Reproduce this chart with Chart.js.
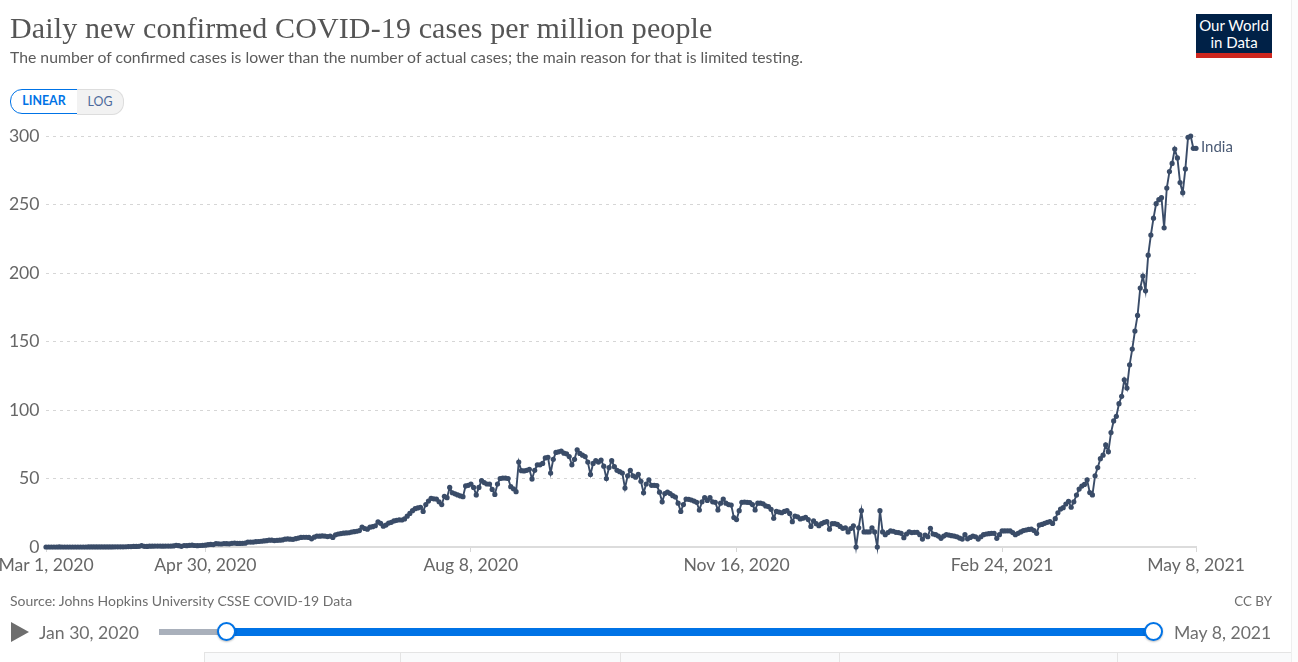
<!DOCTYPE html>
<html>
<head>
<meta charset="utf-8">
<title>Daily new confirmed COVID-19 cases per million people</title>
<script src="https://cdn.jsdelivr.net/npm/chart.js@4"></script>
<style>
html,body{margin:0;padding:0;background:#fff;width:1298px;height:662px;overflow:hidden;font-family:Lato,sans-serif}
#wrap{position:relative;width:1298px;height:662px}
#wrap>*{position:absolute}
canvas{left:0;top:0}
#title{left:10px;top:10px;font:400 30px "Liberation Serif",serif;color:#555;letter-spacing:.13px;white-space:nowrap;line-height:36px}
#sub{left:10px;top:47px;font:15.77px Lato;color:#5b5b5b;white-space:nowrap;line-height:19px}
#lin{left:10px;top:89px;width:66px;height:23px;border:1.5px solid #0073e6;border-radius:12px 0 0 12px;color:#0073e6;font:700 12.4px/22px Lato;text-align:center;background:#fff;box-sizing:content-box}
#log{left:77px;top:89px;width:46px;height:24px;border:1px solid #ddd;border-left:0;border-radius:0 12px 12px 0;color:#4c6a9c;font:12.4px/23px Lato;text-align:center;background:#f2f2f2}
#logo{left:1196px;top:14px;width:76px;background:#002147;color:#fff;font:15px/17px Lato;text-align:center;border-bottom:5px solid #ce261e;padding-top:3px;box-sizing:content-box;height:36px}
#src{left:10px;top:593px;font:14px/16px Lato;color:#6e6e6e;white-space:nowrap}
#cc{right:26px;top:593px;font:13.4px/16px Lato;color:#6e6e6e}
#play{left:11px;top:622px;width:0;height:0;border-left:18px solid #6e6e6e;border-top:10px solid transparent;border-bottom:10px solid transparent}
#d1{left:39px;top:623px;font:17.6px/20px Lato;color:#6e6e6e;white-space:nowrap}
#d2{left:1174px;top:623px;font:17.6px/20px Lato;color:#6e6e6e;white-space:nowrap}
#tg{left:159px;top:629px;width:67px;height:6px;background:#a9b0bb}
#tb{left:226px;top:628px;width:928px;height:7.5px;background:#0073e6}
.h{width:15px;height:15px;border:2.5px solid #0073e6;border-radius:50%;background:#fff;top:622px;box-shadow:0 1px 2px rgba(0,0,0,.25)}
#h1{left:216.5px}
#h2{left:1144px}
#panel{left:204px;top:652px;width:1087px;height:10px;background:#f9fafb;border-top:1px solid #e4e4e4;box-sizing:border-box;border-left:1px solid #e4e4e4}
.c{top:652px;width:1px;height:10px;background:#e4e4e4}
#edge{left:1291px;top:0;width:7px;height:662px;background:#fcfcfc;border-left:1px solid #eee;box-sizing:border-box}
</style>
</head>
<body>
<div id="wrap">
<canvas id="c" width="1298" height="662"></canvas>
<div id="title">Daily new confirmed COVID-19 cases per million people</div>
<div id="sub">The number of confirmed cases is lower than the number of actual cases; the main reason for that is limited testing.</div>
<div id="lin">LINEAR</div><div id="log">LOG</div>
<div id="logo">Our World<br>in Data</div>
<div id="src">Source: Johns Hopkins University CSSE COVID-19 Data</div>
<div id="cc">CC BY</div>
<div id="play"></div>
<div id="d1">Jan 30, 2020</div>
<div id="tg"></div><div id="tb"></div>
<div class="h" id="h1"></div><div class="h" id="h2"></div>
<div id="d2">May 8, 2021</div>
<div id="panel"></div>
<div class="c" style="left:400px"></div><div class="c" style="left:620px"></div><div class="c" style="left:839px"></div><div class="c" style="left:1117px"></div>
<div id="edge"></div>
</div>
<script>
const seriesName = "India";
const startDate = "2020-03-01";
const tickDates = ["Mar 1, 2020","Apr 30, 2020","Aug 8, 2020","Nov 16, 2020","Feb 24, 2021","May 8, 2021"];
const yTicks = [0,50,100,150,200,250,300];

const mar20 = [0,0,0.01,0,0,0.02,0,0,0,0.01,0.01,0.01,0.01,0.01,0.01,0.01,0.02,0.02,0.02,0.04,0.04,0.06,0.06,0.07,0.07,0.08,0.1,0.12,0.14,0.16,0.2];
const apr20 = [0.28,0.32,0.4,0.45,0.5,1,0.5,0.4,0.6,0.6,0.7,0.7,0.7,0.6,0.7,0.7,0.7,0.8,1.2,1,0.5,1.1,1,1.2,1.3,1.1,1,1.1,1.2,1.3];
const may20 = [1.7,1.9,1.8,2.4,2.3,2.2,2.5,2.4,2.3,2.7,2.9,2.6,2.6,2.7,2.8,3.6,3.6,3.6,3.9,4,4.2,4.4,4.6,5,5,4.7,4.9,5,5.2,5.7,5.9];
const jun20 = [5.7,5.6,6.1,6.5,7,7.1,7.1,7,6,7.2,8,7.9,8.1,8,7.6,8,7,8.9,9.5,9.8,10.1,10.3,10.4,10.9,11.2,11.5,12,14.6,13.5,13];
const jul20 = [14.5,14.8,15.5,18.3,17.3,15.2,16,17.5,18,19,19.5,19.8,19.7,20.5,22.5,24.5,26.5,28,28.5,29,26,31,33.5,35.5,35.2,35,33,31,37,36,43.5];
const aug20 = [39.6,38.8,38,37.3,36.7,44.6,45,46,43.5,38,43.5,48.4,47,46,46,42,38.4,46,50,50.3,50.3,50,44,42.5,40.4,62,55.7,55.5,56,56.7,49.7];
const sep20 = [56,60,60,61,65,65.5,54,64,69,69.5,70,68.5,68,66,60,64,71,68.3,67,66,62,53,61,63,62,63.5,59,50,58,63];
const oct20 = [58.6,56,55,54,43,52,56,52,51,53,48,39.6,46,49,45,45,44.8,40,33,39,40,39,37.5,36.5,32,26,31,35,34.8,34.3,33.5];
const nov20 = [32.6,27,33,36,34,36,33,32.6,27,32,35,32,31,30.6,21.5,20,26.5,32.6,32.8,32.6,32.4,31,27,32,32,31.5,30,29.5,27.5,21];
const dec20 = [26,25.5,25,26,26.5,24.5,18.5,22.6,22,20.5,21,21.7,20,15,19,17,15.6,17,18,18.5,13,17,17,16.5,15,13.6,14,11,13.5,15.5,0];
const jan21 = [14,26.5,11,11,11,14,11,0,26.5,11,9,10.5,11.7,11.5,10.7,10.5,10,6.8,9.5,11,10.5,10.7,10.7,9,5.8,8.7,7.5,13.6,9.5,9,8];
const feb21 = [6.3,8,9,8.7,8.3,8,7.5,6.5,5.8,9,6,7,8,7.5,5.8,7.5,9,9.5,9.7,10,10,6.3,9,11.7,11.7,11.8,11.7,10.5];
const mar21 = [9,10,11,12,12.4,12.8,13,12,10,16,16.5,17.3,18,18.5,17.2,20.7,25,27.7,28.7,31.4,33.3,29,33,37.9,42.3,44.5,45.7,49,39.7,38,52];
const apr21 = [58,64.5,67,74.5,69.6,83.5,92,95.4,104.6,110,122,116,133,144.5,157.6,169,189,197.8,187,213,227.7,240,250.6,253.5,255,233,262,274,280,290.5];
const may21 = [284,266,258.6,276,299,300,291,291];

const cases = [].concat(mar20,apr20,may20,jun20,jul20,aug20,sep20,oct20,nov20,dec20,jan21,feb21,mar21,apr21,may21);

const fmt = d => d.toLocaleDateString("en-US",{month:"short",day:"numeric",year:"numeric",timeZone:"UTC"});
const categories = cases.map((_,i) => fmt(new Date(Date.parse(startDate+"T00:00:00Z") + i*864e5)));

const lineColor = "#3a4c68";
const endLabel = {
  id:"endLabel",
  afterDatasetsDraw(chart){
    const m = chart.getDatasetMeta(0).data;
    const p = m[m.length-1], ctx = chart.ctx;
    ctx.save();
    ctx.font = "15px Lato";
    ctx.fillStyle = "#4c5c76";
    ctx.textBaseline = "middle";
    ctx.fillText(seriesName, p.x+5, p.y-1);
    ctx.restore();
  }
};

new Chart(document.getElementById("c"),{
  type:"line",
  data:{labels:categories,datasets:[{
    label:seriesName,data:cases,borderColor:lineColor,backgroundColor:lineColor,
    borderWidth:1.9,pointRadius:2.6,pointBorderWidth:0,tension:0,clip:false
  }]},
  options:{
    responsive:false,animation:false,devicePixelRatio:1,
    layout:{padding:{left:0,right:102,top:136,bottom:0}},
    plugins:{legend:{display:false},tooltip:{enabled:false}},
    scales:{
      x:{
        type:"category",
        afterBuildTicks(s){ s.ticks = s.ticks.filter(t => tickDates.includes(categories[t.value])); },
        afterFit(s){ s.height = 115; s.paddingLeft = 0; s.paddingRight = 0; },
        grid:{drawOnChartArea:false,drawTicks:true,tickLength:5,tickColor:"#d8d8d8",tickWidth:1},
        border:{display:true,color:"#dcdcdc",width:2},
        ticks:{autoSkip:false,maxRotation:0,minRotation:0,padding:3,color:"#666",font:{family:"Lato",size:17.6},
          callback(v){ return categories[v]; }}
      },
      y:{
        min:0,max:300,
        afterBuildTicks(s){ s.ticks = yTicks.map(v => ({value:v})); },
        afterFit(s){ s.width = 46; },
        grid:{drawTicks:false,color:c => c.tick.value===0?"transparent":"#d6d6d6",lineWidth:1},
        border:{display:false,dash:[3,4]},
        ticks:{padding:6.5,color:"#666",font:{family:"Lato",size:17.6}}
      }
    }
  },
  plugins:[endLabel]
});
</script>
</body>
</html>
